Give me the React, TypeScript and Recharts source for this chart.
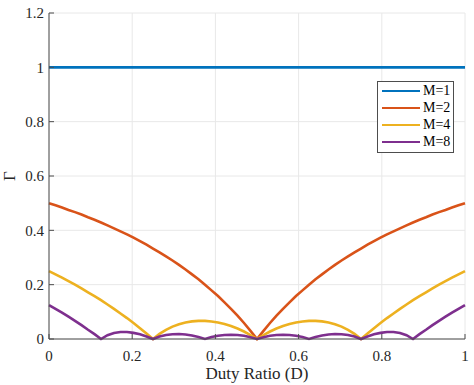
import React from "react";
import { LineChart, Line, XAxis, YAxis, CartesianGrid } from "recharts";

// duty ratio samples (D)
const duty = [
  0, 0.015625, 0.03125, 0.046875, 0.0625, 0.078125, 0.09375, 0.109375, 0.125,
  0.140625, 0.15625, 0.171875, 0.1875, 0.203125, 0.21875, 0.234375, 0.25,
  0.265625, 0.28125, 0.296875, 0.3125, 0.328125, 0.34375, 0.359375, 0.375,
  0.390625, 0.40625, 0.421875, 0.4375, 0.453125, 0.46875, 0.484375, 0.5,
  0.515625, 0.53125, 0.546875, 0.5625, 0.578125, 0.59375, 0.609375, 0.625,
  0.640625, 0.65625, 0.671875, 0.6875, 0.703125, 0.71875, 0.734375, 0.75,
  0.765625, 0.78125, 0.796875, 0.8125, 0.828125, 0.84375, 0.859375, 0.875,
  0.890625, 0.90625, 0.921875, 0.9375, 0.953125, 0.96875, 0.984375, 1,
];

const gammaM2 = [
  0.5, 0.492, 0.484, 0.475, 0.467, 0.458, 0.448, 0.439, 0.429, 0.418, 0.407,
  0.396, 0.385, 0.373, 0.36, 0.347, 0.333, 0.319, 0.304, 0.289, 0.273, 0.256,
  0.238, 0.22, 0.2, 0.179, 0.158, 0.135, 0.111, 0.086, 0.059, 0.03, 0,
  0.03, 0.059, 0.086, 0.111, 0.135, 0.158, 0.179, 0.2, 0.22, 0.238, 0.256,
  0.273, 0.289, 0.304, 0.319, 0.333, 0.347, 0.36, 0.373, 0.385, 0.396, 0.407,
  0.418, 0.429, 0.439, 0.448, 0.458, 0.467, 0.475, 0.484, 0.492, 0.5,
];

const gammaM4 = [
  0.25, 0.238, 0.226, 0.213, 0.2, 0.186, 0.172, 0.158, 0.143, 0.127, 0.111,
  0.094, 0.077, 0.059, 0.04, 0.02, 0,
  0.0188, 0.0338, 0.0456, 0.0545, 0.0609, 0.0649, 0.0668, 0.0667, 0.0646,
  0.0607, 0.0551, 0.0476, 0.0384, 0.0275, 0.0147, 0,
  0.0147, 0.0275, 0.0384, 0.0476, 0.0551, 0.0607, 0.0646, 0.0667, 0.0668,
  0.0649, 0.0609, 0.0545, 0.0456, 0.0338, 0.0188, 0,
  0.02, 0.04, 0.059, 0.077, 0.094, 0.111, 0.127, 0.143, 0.158, 0.172, 0.186,
  0.2, 0.213, 0.226, 0.238, 0.25,
];

const gammaM8 = [
  0.125, 0.111, 0.097, 0.082, 0.067, 0.051, 0.034, 0.018, 0,
  0.0141, 0.0222, 0.0257, 0.0256, 0.0226, 0.0171, 0.0095, 0,
  0.0088, 0.0145, 0.0175, 0.0182, 0.0166, 0.013, 0.0074, 0,
  0.0072, 0.0121, 0.015, 0.0159, 0.0148, 0.0118, 0.0068, 0,
  0.0068, 0.0118, 0.0148, 0.0159, 0.015, 0.0121, 0.0072, 0,
  0.0074, 0.013, 0.0166, 0.0182, 0.0175, 0.0145, 0.0088, 0,
  0.0095, 0.0171, 0.0226, 0.0256, 0.0257, 0.0222, 0.0141, 0,
  0.018, 0.034, 0.051, 0.067, 0.082, 0.097, 0.111, 0.125,
];

const dutyM1 = [0, 1];
const gammaM1 = [1, 1];

const xTicks = [0, 0.2, 0.4, 0.6, 0.8, 1];
const yTicks = [0, 0.2, 0.4, 0.6, 0.8, 1, 1.2];

const seriesNames = ["M=1", "M=2", "M=4", "M=8"];
const seriesColors = ["#0072BD", "#D95319", "#EDB120", "#7E2F8E"];

const serif = "'Liberation Serif', 'Times New Roman', serif";
const axisColor = "#4d4d4d";
const tickStyle = { fontSize: 15, fill: "#262626", fontFamily: serif };

const GammaLabel = (props: any) => {
  const vb = props.viewBox || { x: 0, y: 13, width: 49, height: 326 };
  const cx = vb.x + 9;
  const cy = vb.y + vb.height / 2;
  return (
    <text
      x={cx}
      y={cy}
      transform={`rotate(-90 ${cx} ${cy})`}
      textAnchor="middle"
      dominantBaseline="central"
      fontSize={17}
      fontFamily={serif}
      fill="#262626"
    >
      Γ
    </text>
  );
};

export default function App() {
  const rows = duty.map((d, i) => ({
    d,
    m2: gammaM2[i],
    m4: gammaM4[i],
    m8: gammaM8[i],
  }));
  const m1Rows = dutyM1.map((d, i) => ({ d, m1: gammaM1[i] }));

  return (
    <div style={{ position: "absolute", left: 0, top: 0, width: 474, height: 385 }}>
      <LineChart
        width={474}
        height={385}
        data={rows}
        margin={{ top: 13, right: 9, left: 0, bottom: 0 }}
      >
        <CartesianGrid stroke="#e8e8e8" />
        <XAxis
          dataKey="d"
          type="number"
          domain={[0, 1]}
          ticks={xTicks}
          height={46}
          tick={tickStyle}
          tickSize={-5}
          tickMargin={16.5}
          axisLine={{ stroke: axisColor }}
          tickLine={{ stroke: axisColor }}
          label={{
            value: "Duty Ratio (D)",
            position: "insideBottom",
            offset: 6,
            fontSize: 17,
            fontFamily: serif,
            fill: "#262626",
          }}
        />
        <XAxis
          xAxisId="top"
          orientation="top"
          type="number"
          domain={[0, 1]}
          ticks={xTicks}
          height={0}
          tick={false}
          tickSize={-5}
          axisLine={{ stroke: axisColor }}
          tickLine={{ stroke: axisColor }}
        />
        <YAxis
          type="number"
          domain={[0, 1.2]}
          ticks={yTicks}
          width={49}
          tick={tickStyle}
          tickSize={-5}
          tickMargin={10}
          axisLine={{ stroke: axisColor }}
          tickLine={{ stroke: axisColor }}
          label={<GammaLabel />}
        />
        <YAxis
          yAxisId="right"
          orientation="right"
          type="number"
          domain={[0, 1.2]}
          ticks={yTicks}
          width={0}
          tick={false}
          tickSize={-5}
          axisLine={{ stroke: axisColor }}
          tickLine={{ stroke: axisColor }}
        />
        <Line
          data={m1Rows}
          dataKey="m1"
          type="linear"
          stroke={seriesColors[0]}
          strokeWidth={2.6}
          dot={false}
          isAnimationActive={false}
        />
        <Line
          dataKey="m2"
          type="linear"
          stroke={seriesColors[1]}
          strokeWidth={2.6}
          dot={false}
          isAnimationActive={false}
        />
        <Line
          dataKey="m4"
          type="linear"
          stroke={seriesColors[2]}
          strokeWidth={2.6}
          dot={false}
          isAnimationActive={false}
        />
        <Line
          dataKey="m8"
          type="linear"
          stroke={seriesColors[3]}
          strokeWidth={2.6}
          dot={false}
          isAnimationActive={false}
        />
      </LineChart>
      <div
        style={{
          position: "absolute",
          left: 377,
          top: 81,
          width: 77,
          height: 72,
          boxSizing: "border-box",
          border: `1px solid ${axisColor}`,
          background: "#fff",
          fontFamily: serif,
          fontSize: 14,
          color: "#000",
        }}
      >
        {seriesNames.map((name, i) => (
          <div
            key={name}
            style={{
              position: "absolute",
              left: 4,
              top: i * 17,
              height: 17,
              display: "flex",
              alignItems: "center",
              whiteSpace: "nowrap",
            }}
          >
            <span
              style={{
                display: "inline-block",
                width: 38,
                borderTop: `2.5px solid ${seriesColors[i]}`,
              }}
            />
            <span style={{ marginLeft: 3, lineHeight: "17px" }}>{name}</span>
          </div>
        ))}
      </div>
    </div>
  );
}
